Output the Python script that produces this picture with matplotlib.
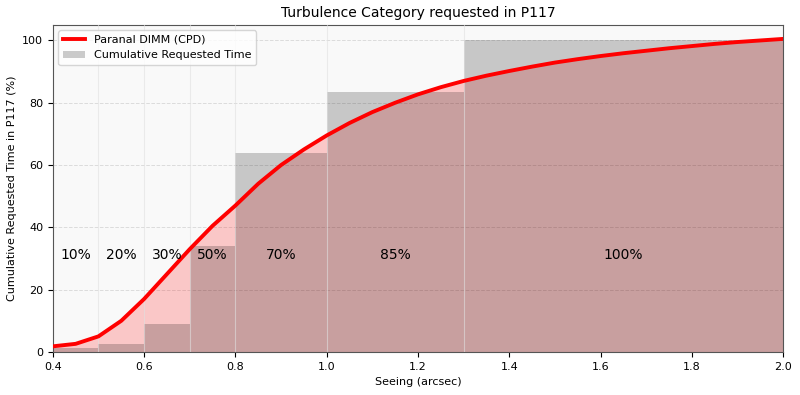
import numpy as np
import matplotlib.pyplot as plt

# seeing grid and Paranal DIMM cumulative distribution
seeing = [0.40, 0.45, 0.50, 0.55, 0.60, 0.65, 0.70, 0.75, 0.80, 0.85, 0.90, 0.95,
          1.00, 1.05, 1.10, 1.15, 1.20, 1.25, 1.30, 1.35, 1.40, 1.45, 1.50, 1.55,
          1.60, 1.65, 1.70, 1.75, 1.80, 1.85, 1.90, 1.95, 2.00]
dimm_cpd = [1.8, 2.6, 5.0, 10.0, 17.0, 25.0, 33.0, 40.5, 47.0, 54.0, 60.0, 65.0,
            69.5, 73.5, 77.0, 80.0, 82.7, 85.0, 87.0, 88.7, 90.2, 91.6, 92.9, 94.0,
            95.0, 95.9, 96.7, 97.5, 98.2, 98.9, 99.5, 100.0, 100.5]

# turbulence categories: bin edges, cumulative requested time, labels
bin_edges = [0.4, 0.5, 0.6, 0.7, 0.8, 1.0, 1.3, 2.0]
cum_time = [1.2, 2.6, 9.0, 34.0, 64.0, 83.3, 100.0]
cat_labels = ['10%', '20%', '30%', '50%', '70%', '85%', '100%']
label_x = [0.45, 0.55, 0.65, 0.75, 0.90, 1.15, 1.65]

fig = plt.figure(figsize=(8, 3.95), dpi=100)
ax = fig.add_axes([0.066, 0.109, 0.913, 0.828])
ax.set_facecolor('#f9f9f9')

ax.set_axisbelow(True)
ax.yaxis.grid(True, ls='--', color='#c8c8c8', lw=0.7, alpha=0.6)

ax.fill_between(seeing, 0, dimm_cpd, color='red', alpha=0.2, lw=0, zorder=1)
ax.plot(seeing, dimm_cpd, color='red', lw=2.8, label='Paranal DIMM (CPD)', zorder=4)

lefts = np.array(bin_edges[:-1])
widths = np.diff(bin_edges)
ax.bar(lefts, cum_time, width=widths, align='edge', color='black', alpha=0.2,
       lw=0, label='Cumulative Requested Time', zorder=2)

for e in bin_edges[1:-1]:
    ax.axvline(e, color='#e0e0e0', alpha=0.6, lw=0.8, zorder=3)

for xl, t in zip(label_x, cat_labels):
    ax.text(xl, 31, t, ha='center', va='center', fontsize=10, zorder=5)

ax.set_xlim(0.4, 2.0)
ax.set_ylim(0, 105)
ax.set_xticks(np.arange(0.4, 2.01, 0.2))
ax.set_yticks([0, 20, 40, 60, 80, 100])
ax.tick_params(labelsize=8)
for s in ax.spines.values():
    s.set_color('#555555')

ax.set_xlabel('Seeing (arcsec)', fontsize=8)
ax.set_ylabel('Cumulative Requested Time in P117 (%)', fontsize=8)
ax.set_title('Turbulence Category requested in P117', fontsize=10)
ax.legend(loc='upper left', fontsize=8)

fig.savefig('out.png', dpi=100)
